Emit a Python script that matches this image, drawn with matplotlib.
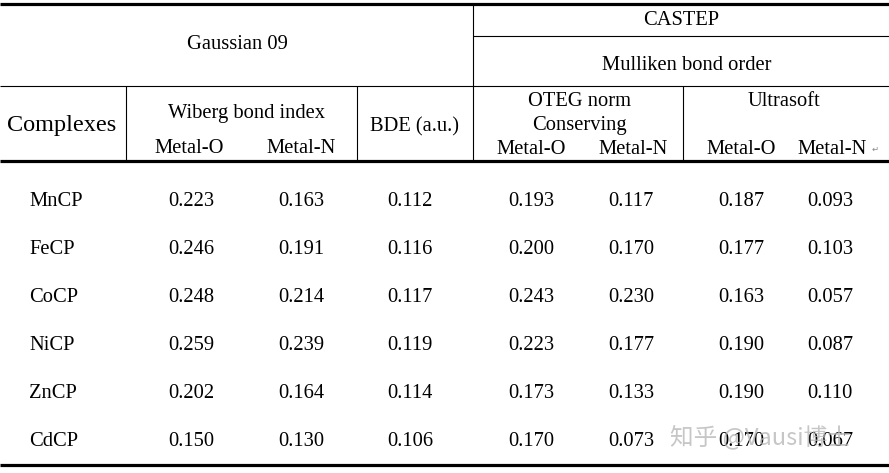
import matplotlib.pyplot as plt

plt.rcParams['font.family'] = ['Liberation Serif', 'DejaVu Serif']

complexes = ['MnCP', 'FeCP', 'CoCP', 'NiCP', 'ZnCP', 'CdCP']
wiberg_o = ['0.223', '0.246', '0.248', '0.259', '0.202', '0.150']
wiberg_n = ['0.163', '0.191', '0.214', '0.239', '0.164', '0.130']
bde = ['0.112', '0.116', '0.117', '0.119', '0.114', '0.106']
oteg_o = ['0.193', '0.200', '0.243', '0.223', '0.173', '0.170']
oteg_n = ['0.117', '0.170', '0.230', '0.177', '0.133', '0.073']
ultra_o = ['0.187', '0.177', '0.163', '0.190', '0.190', '0.170']
ultra_n = ['0.093', '0.103', '0.057', '0.087', '0.110', '0.067']

W, H = 889, 473
fig = plt.figure(figsize=(W / 100, H / 100), dpi=100)
ax = fig.add_axes([0, 0, 1, 1])
ax.set_xlim(0, W)
ax.set_ylim(H, 0)
ax.axis('off')

thin = 0.8
thick = 2.3

# rules
ax.hlines([4.5, 161, 464.5], 0, W, color='black', lw=thick)
ax.hlines(86, 0, W, color='black', lw=thin)
ax.hlines(36, 473, W, color='black', lw=thin)
ax.vlines(473, 4.5, 161, color='black', lw=thin)
ax.vlines([126, 357, 683], 86, 161, color='black', lw=thin)

fs = 14.8
kw = dict(ha='center', va='center_baseline', fontsize=fs, color='black')

# header
ax.text(237, 42, 'Gaussian 09', **kw)
ax.text(681, 18, 'CASTEP', **kw)
ax.text(687, 63, 'Mulliken bond order', **kw)
ax.text(62, 123, 'Complexes', ha='center', va='center_baseline', fontsize=17.5)
ax.text(246, 111, 'Wiberg bond index', **kw)
ax.text(189, 146, 'Metal-O', **kw)
ax.text(301, 146, 'Metal-N', **kw)
ax.text(415, 124, 'BDE (a.u.)', **kw)
ax.text(579, 99, 'OTEG norm', **kw)
ax.text(579, 123, 'Conserving', **kw)
ax.text(531, 147, 'Metal-O', **kw)
ax.text(633, 147, 'Metal-N', **kw)
ax.text(784, 99, 'Ultrasoft', **kw)
ax.text(741, 147, 'Metal-O', **kw)
ax.text(832, 147, 'Metal-N', **kw)
ax.text(875, 149, '\u21b5', ha='center', va='center', fontsize=6,
        color='#888888', family='DejaVu Sans')

# body
row_y = [199, 247, 295, 343, 391, 439]
columns = [(191, wiberg_o), (301, wiberg_n), (410, bde),
           (531, oteg_o), (631, oteg_n), (741, ultra_o), (830, ultra_n)]
for i, y in enumerate(row_y):
    ax.text(29, y, complexes[i], ha='left', va='center_baseline', fontsize=fs)
    for x, vals in columns:
        ax.text(x, y, vals[i], **kw)

# watermark
ax.text(760, 437, '知乎 @Vausi博士', ha='center', va='center', fontsize=17,
        color='#b4b4b4', alpha=0.75,
        family=['Noto Sans CJK SC', 'DejaVu Sans'])

fig.savefig('out.png', dpi=100)
